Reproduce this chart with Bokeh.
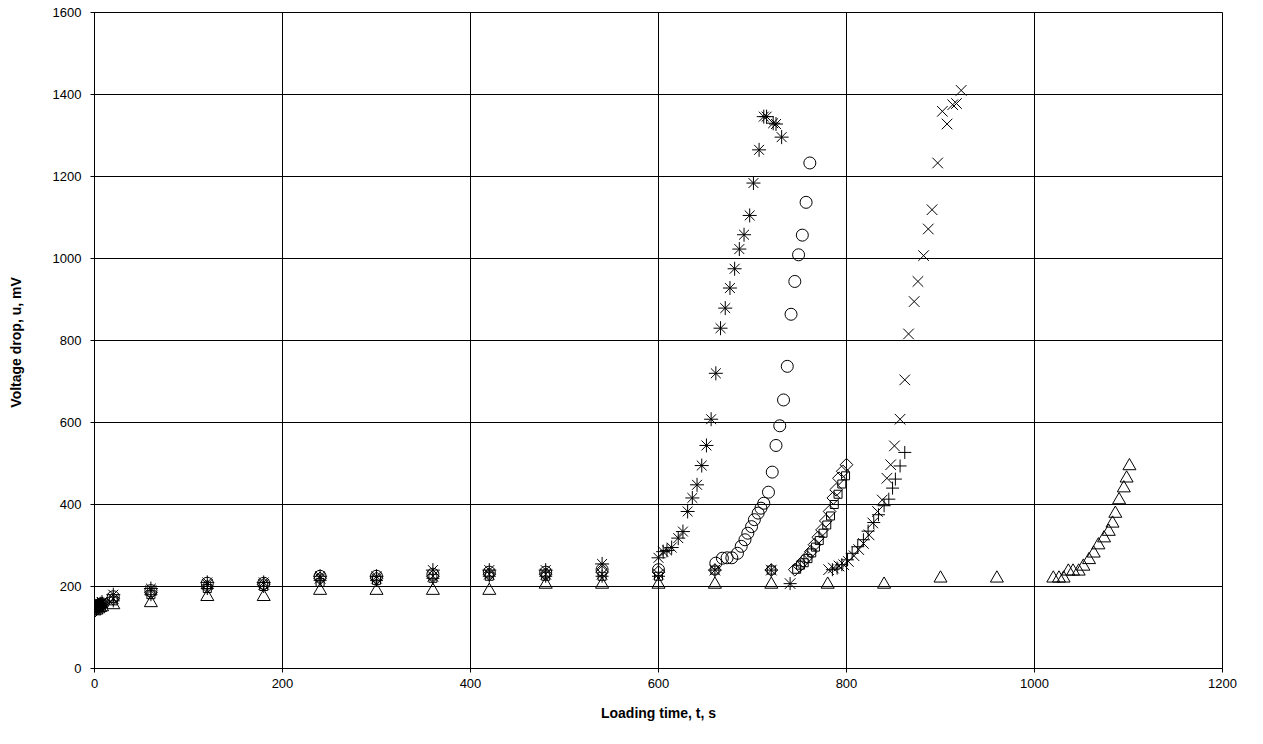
from bokeh.plotting import figure
from bokeh.models import Range1d, FixedTicker
from bokeh.embed import file_html
from bokeh.resources import INLINE
import math

# Loading time t (s) and voltage drop u (mV) for each series
t_early = [0, 2, 4, 6, 8, 20, 60, 120, 180, 240, 300, 360, 420, 480, 540, 600]

diamond_t = t_early + [660, 720, 745, 750, 754, 758, 762, 766, 770, 774, 778, 782, 786, 789, 792, 796, 800]
diamond_u = [140, 145, 150, 155, 158, 170, 185, 200, 205, 220, 220, 225, 230, 230, 235, 235,
             240, 240, 241, 250, 262, 272, 285, 302, 320, 338, 360, 383, 416, 436, 464, 481, 497]

square_t = t_early + [660, 720, 747, 751, 755, 759, 763, 767, 771, 775, 779, 783, 787, 791, 795, 799]
square_u = [142, 146, 150, 154, 158, 165, 180, 195, 200, 210, 215, 220, 225, 225, 225, 225,
            240, 240, 242, 252, 258, 268, 282, 296, 312, 330, 350, 372, 400, 425, 450, 470]

triangle_t = t_early + [660, 720, 780, 840, 900, 960, 1020, 1026, 1031, 1036, 1041, 1047, 1052, 1058,
                        1063, 1068, 1074, 1079, 1083, 1086, 1090, 1095, 1098, 1101]
triangle_u = [140, 142, 145, 148, 150, 155, 160, 175, 175, 190, 190, 190, 190, 205, 205, 205,
              205, 205, 205, 205, 220, 220, 220, 220, 220, 237, 237, 237, 249, 265,
              281, 301, 318, 334, 354, 378, 411, 440, 464, 494]

x_t = t_early + [660, 720, 740, 781, 786, 792, 797, 802, 808, 813, 818, 824, 828, 833, 838, 843, 847,
                 851, 857, 862, 866, 872, 876, 882, 887, 891, 897, 902, 907, 913, 917, 922]
x_u = [145, 150, 152, 156, 160, 170, 190, 205, 205, 220, 220, 225, 230, 230, 230, 230,
       240, 240, 207, 241, 245, 250, 253, 261, 275, 290, 305, 326, 355, 383, 411, 464, 497,
       543, 608, 704, 816, 895, 944, 1007, 1072, 1119, 1233, 1359, 1328, 1375, 1378, 1410]

star_t = t_early + [605, 609, 614, 621, 626, 631, 636, 641, 646, 651, 656, 661, 666, 671, 676, 681,
                    686, 691, 697, 701, 707, 712, 715, 722, 725, 731]
star_u = [148, 152, 155, 158, 162, 180, 195, 210, 210, 225, 225, 240, 240, 240, 255, 270,
          285, 288, 295, 318, 334, 383, 416, 448, 495, 544, 608, 720, 830, 879, 928, 975,
          1023, 1058, 1105, 1184, 1265, 1346, 1346, 1330, 1328, 1296]

circle_t = t_early + [661, 668, 673, 678, 684, 688, 692, 695, 699, 702, 706, 709, 712, 717, 721, 725,
                      729, 733, 737, 741, 745, 749, 753, 757, 761]
circle_u = [145, 150, 153, 156, 158, 175, 190, 208, 208, 225, 225, 230, 235, 235, 241, 241,
            257, 269, 270, 270, 281, 298, 314, 330, 346, 363, 379, 391, 403, 430, 479, 544,
            592, 655, 737, 864, 944, 1009, 1057, 1137, 1233]

plus_t = t_early + [660, 720, 740, 785, 790, 795, 801, 806, 812, 818, 823, 829, 834, 840, 845, 849, 852, 857, 862]
plus_u = [142, 146, 150, 154, 157, 165, 180, 195, 200, 215, 215, 220, 225, 225, 225, 225,
          240, 240, 207, 241, 245, 253, 265, 281, 297, 314, 335, 356, 375, 397, 413, 440, 462, 494, 527]

x_ticks = [0, 200, 400, 600, 800, 1000, 1200]
y_ticks = [0, 200, 400, 600, 800, 1000, 1200, 1400, 1600]

FONT = "Liberation Sans"

p = figure(width=1247, height=728, output_backend="svg", toolbar_location=None,
           x_range=Range1d(0, 1200), y_range=Range1d(0, 1600),
           min_border_left=94, min_border_top=12, min_border_right=25, min_border_bottom=60)
p.outline_line_color = "black"
p.outline_line_width = 1
p.background_fill_color = "white"
p.border_fill_color = "white"

for g in (p.xgrid, p.ygrid):
    g.grid_line_color = "black"
    g.grid_line_width = 1
p.xgrid.ticker = FixedTicker(ticks=x_ticks)
p.ygrid.ticker = FixedTicker(ticks=y_ticks)

for ax, ticks in ((p.xaxis, x_ticks), (p.yaxis, y_ticks)):
    ax.ticker = FixedTicker(ticks=ticks)
    ax.axis_line_color = "black"
    ax.major_tick_line_color = "black"
    ax.major_tick_in = 4
    ax.major_tick_out = 4
    ax.minor_tick_line_color = None
    ax.major_label_text_font = FONT
    ax.major_label_text_font_size = "13px"
    ax.major_label_text_color = "black"
    ax.axis_label_text_font = FONT
    ax.axis_label_text_font_size = "14px"
    ax.axis_label_text_font_style = "bold"
    ax.axis_label_text_color = "black"

p.xaxis.axis_label = "Loading time, t, s"
p.yaxis.axis_label = "Voltage drop, u,  mV"
p.xaxis.major_label_standoff = 6
p.xaxis.axis_label_standoff = 14
p.yaxis.major_label_standoff = 9
p.yaxis.axis_label_standoff = 26

common = dict(line_color="black", line_width=1, fill_alpha=0)
p.scatter(diamond_t, diamond_u, marker="square", size=9, angle=math.pi / 4, **common)
p.scatter(square_t, square_u, marker="square", size=8, **common)
p.scatter(triangle_t, triangle_u, marker="triangle", size=13, **common)
p.scatter(x_t, x_u, marker="x", size=15, **common)
p.scatter(star_t, star_u, marker="asterisk", size=14, **common)
p.scatter(circle_t, circle_u, marker="circle", size=12, **common)
p.scatter(plus_t, plus_u, marker="cross", size=13, **common)

open("out.html", "w").write(file_html(p, INLINE))
